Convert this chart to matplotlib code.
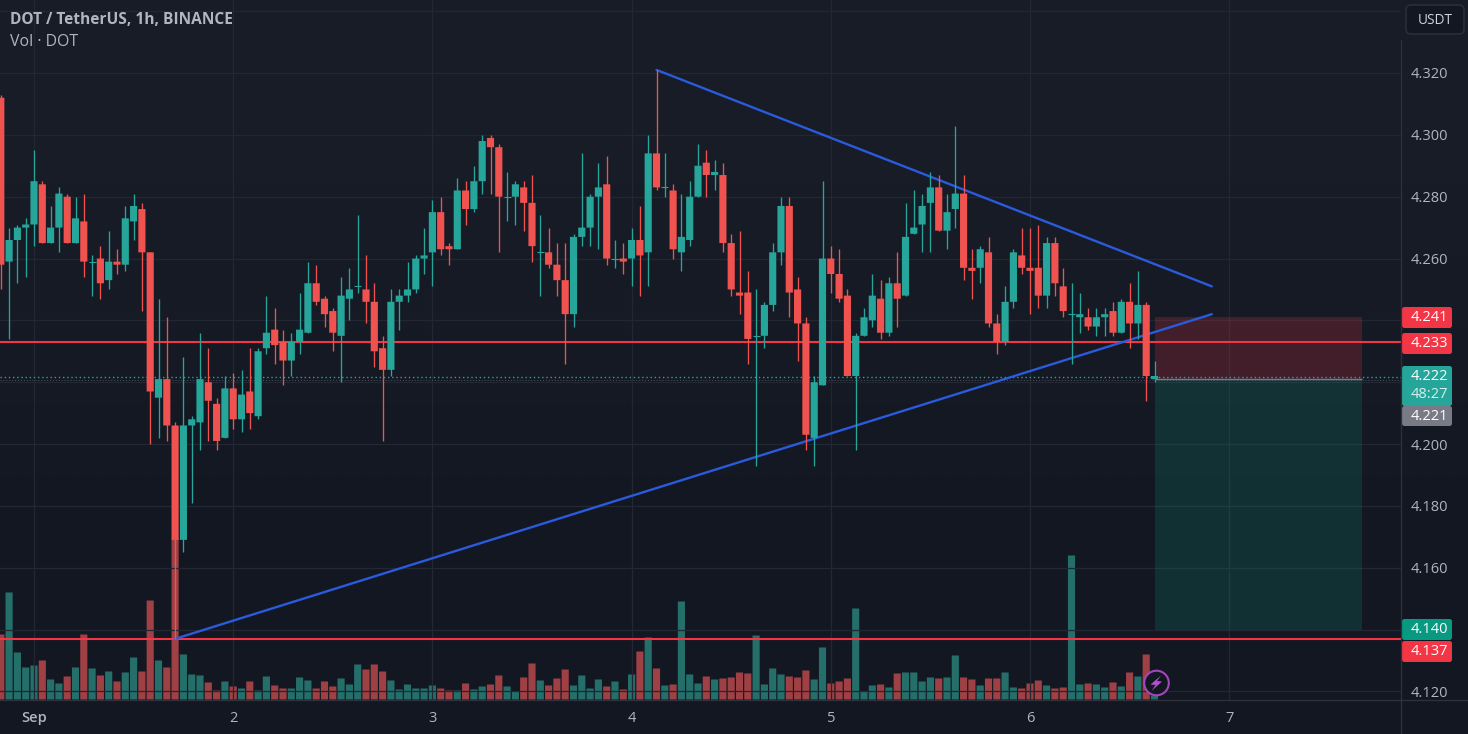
import matplotlib
matplotlib.use("Agg")
import matplotlib.pyplot as plt
import numpy as np
from matplotlib.patches import Circle, FancyBboxPatch, Polygon

plt.rcParams["font.family"] = ["Open Sans", "DejaVu Sans"]

# hourly candles of 1-6 Sep, hour 0 = 1 Sep 00:00
first_hour = -4
opens = [
    4.312, 4.259, 4.266, 4.270, 4.271, 4.284, 4.265, 4.270, 4.280, 4.265,
    4.272, 4.259, 4.260, 4.253, 4.259, 4.258, 4.272, 4.276, 4.262, 4.215,
    4.221, 4.206, 4.169, 4.206, 4.207, 4.220, 4.213, 4.202, 4.218, 4.208,
    4.217, 4.209, 4.231, 4.237, 4.233, 4.227, 4.233, 4.236, 4.252, 4.247,
    4.243, 4.235, 4.247, 4.251, 4.250, 4.246, 4.231, 4.224, 4.246, 4.248,
    4.250, 4.260, 4.262, 4.275, 4.264, 4.263, 4.282, 4.276, 4.285, 4.299,
    4.296, 4.280, 4.280, 4.283, 4.278, 4.262, 4.262, 4.258, 4.253, 4.242,
    4.267, 4.270, 4.280, 4.284, 4.260, 4.260, 4.260, 4.266, 4.262, 4.294,
    4.283, 4.282, 4.262, 4.266, 4.280, 4.291, 4.287, 4.287, 4.265, 4.249,
    4.249, 4.235, 4.235, 4.245, 4.262, 4.277, 4.250, 4.239, 4.202, 4.219,
    4.260, 4.255, 4.248, 4.222, 4.235, 4.240, 4.247, 4.236, 4.252, 4.248,
    4.268, 4.271, 4.278, 4.283, 4.269, 4.276, 4.281, 4.257, 4.257, 4.262,
    4.239, 4.233, 4.246, 4.261, 4.257, 4.257, 4.248, 4.265, 4.251, 4.242,
    4.241, 4.241, 4.238, 4.241, 4.243, 4.236, 4.246, 4.239, 4.245, 4.221,
]
highs = [
    4.313, 4.270, 4.271, 4.273, 4.295, 4.285, 4.277, 4.283, 4.281, 4.280,
    4.281, 4.261, 4.264, 4.269, 4.263, 4.277, 4.281, 4.278, 4.262, 4.247,
    4.241, 4.207, 4.228, 4.209, 4.236, 4.231, 4.215, 4.222, 4.223, 4.224,
    4.231, 4.231, 4.248, 4.244, 4.237, 4.236, 4.249, 4.259, 4.258, 4.248,
    4.244, 4.254, 4.257, 4.274, 4.261, 4.252, 4.235, 4.250, 4.250, 4.259,
    4.261, 4.270, 4.279, 4.280, 4.265, 4.286, 4.285, 4.290, 4.300, 4.300,
    4.297, 4.288, 4.285, 4.285, 4.287, 4.274, 4.270, 4.265, 4.265, 4.268,
    4.294, 4.281, 4.291, 4.293, 4.266, 4.265, 4.270, 4.277, 4.300, 4.321,
    4.294, 4.284, 4.281, 4.285, 4.297, 4.295, 4.292, 4.291, 4.268, 4.269,
    4.256, 4.250, 4.246, 4.265, 4.280, 4.280, 4.254, 4.241, 4.222, 4.285,
    4.264, 4.263, 4.250, 4.236, 4.244, 4.255, 4.253, 4.254, 4.262, 4.278,
    4.282, 4.281, 4.288, 4.287, 4.281, 4.303, 4.287, 4.263, 4.264, 4.267,
    4.242, 4.251, 4.263, 4.270, 4.270, 4.271, 4.267, 4.267, 4.257, 4.252,
    4.249, 4.244, 4.244, 4.244, 4.246, 4.247, 4.252, 4.256, 4.246, 4.227,
]
lows = [
    4.250, 4.234, 4.252, 4.254, 4.264, 4.265, 4.265, 4.262, 4.265, 4.265,
    4.254, 4.248, 4.247, 4.250, 4.255, 4.256, 4.266, 4.243, 4.200, 4.202,
    4.201, 4.137, 4.165, 4.181, 4.198, 4.201, 4.198, 4.202, 4.205, 4.204,
    4.205, 4.208, 4.229, 4.226, 4.219, 4.222, 4.229, 4.236, 4.245, 4.238,
    4.230, 4.220, 4.240, 4.249, 4.239, 4.225, 4.201, 4.222, 4.237, 4.246,
    4.249, 4.255, 4.251, 4.261, 4.258, 4.263, 4.271, 4.275, 4.281, 4.281,
    4.262, 4.272, 4.271, 4.269, 4.259, 4.248, 4.257, 4.248, 4.226, 4.238,
    4.264, 4.264, 4.263, 4.258, 4.257, 4.255, 4.251, 4.248, 4.251, 4.282,
    4.280, 4.260, 4.256, 4.264, 4.280, 4.280, 4.282, 4.262, 4.248, 4.242,
    4.226, 4.193, 4.231, 4.243, 4.258, 4.241, 4.227, 4.198, 4.193, 4.219,
    4.249, 4.246, 4.222, 4.198, 4.235, 4.238, 4.234, 4.235, 4.238, 4.248,
    4.268, 4.262, 4.262, 4.269, 4.263, 4.270, 4.253, 4.247, 4.252, 4.238,
    4.229, 4.232, 4.244, 4.255, 4.242, 4.244, 4.244, 4.248, 4.241, 4.226,
    4.236, 4.237, 4.235, 4.235, 4.235, 4.236, 4.231, 4.234, 4.214, 4.220,
]
closes = [
    4.258, 4.266, 4.270, 4.271, 4.285, 4.265, 4.270, 4.281, 4.265, 4.273,
    4.259, 4.259, 4.252, 4.259, 4.258, 4.273, 4.277, 4.262, 4.217, 4.221,
    4.206, 4.169, 4.206, 4.208, 4.221, 4.214, 4.201, 4.218, 4.208, 4.216,
    4.210, 4.230, 4.236, 4.232, 4.227, 4.233, 4.237, 4.252, 4.246, 4.242,
    4.236, 4.248, 4.250, 4.251, 4.246, 4.230, 4.224, 4.246, 4.248, 4.250,
    4.260, 4.261, 4.275, 4.263, 4.263, 4.282, 4.276, 4.285, 4.298, 4.296,
    4.280, 4.280, 4.284, 4.278, 4.264, 4.262, 4.258, 4.253, 4.242, 4.267,
    4.270, 4.280, 4.283, 4.260, 4.260, 4.259, 4.266, 4.261, 4.294, 4.283,
    4.283, 4.263, 4.267, 4.280, 4.290, 4.287, 4.288, 4.265, 4.250, 4.248,
    4.234, 4.235, 4.245, 4.262, 4.277, 4.249, 4.239, 4.203, 4.220, 4.260,
    4.255, 4.247, 4.222, 4.235, 4.241, 4.248, 4.236, 4.252, 4.247, 4.267,
    4.270, 4.277, 4.283, 4.269, 4.275, 4.281, 4.257, 4.256, 4.263, 4.239,
    4.233, 4.246, 4.262, 4.257, 4.256, 4.248, 4.265, 4.252, 4.243, 4.242,
    4.242, 4.238, 4.241, 4.242, 4.236, 4.246, 4.239, 4.245, 4.222, 4.222,
]
volumes = [
    65, 107, 47, 32, 34, 39, 20, 16, 23, 32,
    65, 31, 24, 28, 18, 27, 42, 28, 99, 39,
    32, 161, 45, 25, 24, 17, 9, 18, 13, 11,
    18, 9, 23, 14, 11, 11, 22, 19, 11, 18,
    13, 21, 15, 35, 30, 35, 28, 19, 10, 15,
    11, 11, 14, 11, 9, 9, 16, 10, 13, 15,
    24, 13, 8, 22, 36, 19, 14, 21, 30, 14,
    24, 11, 20, 13, 18, 10, 25, 48, 62, 31,
    14, 15, 98, 25, 16, 23, 20, 21, 22, 27,
    26, 64, 15, 31, 25, 23, 22, 29, 20, 52,
    16, 18, 21, 91, 8, 14, 15, 12, 26, 27,
    27, 18, 22, 21, 22, 44, 22, 20, 14, 21,
    21, 27, 12, 11, 16, 19, 14, 11, 12, 144,
    15, 16, 15, 12, 17, 13, 27, 23, 45, 4,
]

day_ticks = [0, 24, 48, 72, 96, 120, 144]
day_labels = ["Sep", "2", "3", "4", "5", "6", "7"]
price_ticks = [4.12, 4.14, 4.16, 4.18, 4.20, 4.22, 4.24, 4.26, 4.28, 4.30, 4.32, 4.34]
price_labels = ["4.120", "", "4.160", "4.180", "4.200", "", "", "4.260", "4.280", "4.300", "4.320", ""]

support_resist = [4.233, 4.137]
upper_line = ([75, 141.9], [4.321, 4.251])
lower_line = ([17, 141.9], [4.137, 4.242])
pos_start, pos_end = 135, 160
pos_stop, pos_entry, pos_target = 4.241, 4.221, 4.140
last_price = 4.222

# text, top and bottom of the tag in pixels, colour
tags = [
    ("4.241", 307, 328, "#f23645"),
    ("4.233", 333, 354, "#f23645"),
    ("4.221", 406, 426, "#787b86"),
    ("4.140", 619, 640, "#089981"),
    ("4.137", 641, 662, "#f23645"),
]

UP = "#26a69a"
DOWN = "#f0534f"
UP_VOL = "#256f6b"
DOWN_VOL = "#9f4044"
GRID = "#232733"
SEP = "#2f323d"
TXT = "#b2b5be"
BLUE = "#2a5bdc"
RED = "#f23645"

W, H = 1468, 734
PANE_W, PANE_H = 1401, 699.5
DAY0_X = 34

fig = plt.figure(figsize=(W / 100, H / 100), dpi=100)

# dark background, slightly lighter at the top
bg = fig.add_axes([0, 0, 1, 1], zorder=0)
bg.imshow(np.array([[0.0], [1.0]]), aspect="auto", interpolation="bilinear",
          cmap=matplotlib.colors.LinearSegmentedColormap.from_list("bg", ["#181c27", "#131722"]))
bg.axis("off")

rect = [0, 1 - PANE_H / H, PANE_W / W, PANE_H / H]
hours = np.arange(len(opens)) + first_hour
o, h, l, c = map(np.array, (opens, highs, lows, closes))
up = c >= o

# volume pane
vol_ax = fig.add_axes(rect, zorder=1)
vol_ax.patch.set_visible(False)
vol_ax.bar(hours, volumes, width=0.86, linewidth=0, snap=False,
           color=[UP_VOL if u else DOWN_VOL for u in up])
vol_ax.set_ylim(0, PANE_H)
vol_ax.axis("off")

ax = fig.add_axes(rect, zorder=2)
ax.patch.set_visible(False)
x_left, x_right = -DAY0_X / 8.3, (PANE_W - DAY0_X) / 8.3
ax.set_xlim(x_left, x_right)
vol_ax.set_xlim(x_left, x_right)
ax.set_ylim(4.32 - (PANE_H - 73) / 3092, 4.32 + 73 / 3092)

ax.set_xticks(day_ticks)
ax.set_xticklabels(day_labels)
ax.set_yticks(price_ticks)
ax.set_yticklabels(price_labels)
ax.yaxis.tick_right()
ax.tick_params(axis="both", length=0, colors=TXT, labelsize=10.5)
ax.tick_params(axis="x", pad=8)
ax.tick_params(axis="y", pad=7)
ax.get_xticklabels()[0].set_fontweight("semibold")
ax.grid(True, color=GRID, linewidth=0.9)
ax.set_axisbelow(True)
for s in ax.spines.values():
    s.set_visible(False)

# long position box
ax.fill_between([pos_start, pos_end], pos_entry, pos_stop, color="#f23645", alpha=0.2, linewidth=0, zorder=1.5)
ax.fill_between([pos_start, pos_end], pos_target, pos_entry, color="#0a9981", alpha=0.2, linewidth=0, zorder=1.5)
ax.hlines(pos_entry, pos_start, pos_end, color="#787b86", linewidth=1.0, zorder=1.6)

# last price lines
ax.axhline(last_price - 0.0002, color=UP, linewidth=1.0, linestyle=(0, (1, 2)), zorder=1.7)
ax.axhline(pos_entry - 0.0003, color="#787b86", linewidth=0.7, linestyle=(0, (1, 2)), alpha=0.6, zorder=1.7)

for level in support_resist:
    ax.axhline(level, color=RED, linewidth=1.5, zorder=2)
ax.plot(upper_line[0], upper_line[1], color=BLUE, linewidth=1.7, zorder=2.1, solid_capstyle="round")
ax.plot(lower_line[0], lower_line[1], color=BLUE, linewidth=1.7, zorder=2.1, solid_capstyle="round")

# candles
colors = [UP if u else DOWN for u in up]
ax.vlines(hours, l, h, color=colors, linewidth=0.95, zorder=3)
body_bottom = np.minimum(o, c)
body_height = np.abs(c - o)
ax.bar(hours, body_height, bottom=body_bottom, width=0.86, color=colors, linewidth=0, snap=False, zorder=3.1)
doji = body_height == 0
ax.hlines(o[doji], hours[doji] - 0.43, hours[doji] + 0.43, color=UP, linewidth=0.8, zorder=3.1)

# overlay in pixels for the header, tags and separators
top = fig.add_axes([0, 0, 1, 1], zorder=3)
top.set_xlim(0, W)
top.set_ylim(H, 0)
top.axis("off")

top.plot([PANE_W, PANE_W], [40, H], color=SEP, linewidth=0.9)
top.plot([0, W], [PANE_H, PANE_H], color=SEP, linewidth=0.9)

top.text(10, 20, "DOT / TetherUS, 1h, BINANCE", color=TXT, fontsize=11.2, fontweight="bold", va="center")
top.text(10, 41.5, "Vol · DOT", color=TXT, fontsize=11.4, va="center")

top.add_patch(FancyBboxPatch((1406, 5), 58, 29, boxstyle="round,pad=0,rounding_size=5",
                             facecolor="#131722", edgecolor="#2a2e39", linewidth=1.2))
top.text(1435, 20, "USDT", color="#d1d4dc", fontsize=9.8, ha="center", va="center")

for text, y0, y1, col in tags:
    top.add_patch(FancyBboxPatch((1402, y0), 50, y1 - y0, boxstyle="round,pad=0,rounding_size=2.5",
                                 facecolor=col, edgecolor="none"))
    top.text(1429, (y0 + y1) / 2, text, color="white", fontsize=10.5, ha="center", va="center")

top.add_patch(FancyBboxPatch((1402, 366), 50, 40, boxstyle="round,pad=0,rounding_size=2.5",
                             facecolor=UP, edgecolor="none"))
top.text(1429, 376.5, "4.222", color="white", fontsize=10.5, ha="center", va="center")
top.text(1429, 395, "48:27", color="#d5efec", fontsize=10.5, ha="center", va="center")

# lightning badge
top.add_patch(Circle((1156.5, 683), 12.3, facecolor="#131722", edgecolor="#a346bd", linewidth=1.5))
top.add_patch(Polygon([(1161, 675.5), (1150.5, 684.5), (1155.5, 685), (1151.5, 691), (1162, 681.5), (1157, 681)],
                      closed=True, facecolor="#ad52c8", edgecolor="none"))

fig.savefig("out.png", dpi=100, facecolor="#161a25")
